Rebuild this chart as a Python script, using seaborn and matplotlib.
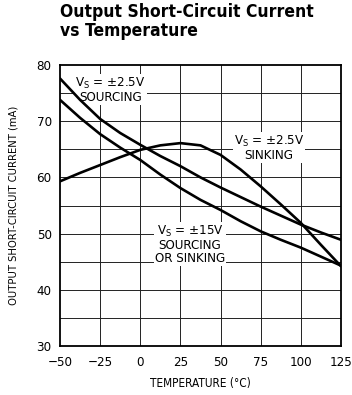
import matplotlib
matplotlib.use("Agg")
import matplotlib.pyplot as plt
from matplotlib import font_manager
import numpy as np
import pandas as pd
import seaborn as sns

# Temperature sample points (deg C)
temperature = [-50, -37.5, -25, -12.5, 0, 12.5, 25, 37.5, 50, 62.5, 75, 87.5, 100, 112.5, 125]

# Short-circuit current (mA) for each supply / direction
sourcing_2v5 = [77.6, 73.8, 70.4, 67.9, 65.8, 63.8, 62.0, 60.0, 58.2, 56.5, 54.8, 53.2, 51.6, 50.2, 48.9]
sinking_2v5 = [59.3, 60.8, 62.2, 63.6, 64.9, 65.7, 66.1, 65.7, 64.0, 61.4, 58.4, 55.2, 51.9, 48.0, 44.2]
both_15v = [73.8, 70.6, 67.7, 65.3, 63.1, 60.5, 58.1, 56.0, 54.2, 52.2, 50.4, 48.9, 47.5, 45.9, 44.3]

series_names = ["VS=±2.5V sourcing", "VS=±2.5V sinking", "VS=±15V"]

x_ticks = [-50, -25, 0, 25, 50, 75, 100, 125]
y_ticks = [30, 40, 50, 60, 70, 80]

title_text = "Output Short-Circuit Current\nvs Temperature"
x_label = "TEMPERATURE (°C)"
y_label = "OUTPUT SHORT-CIRCUIT CURRENT (mA)"

df = pd.DataFrame({
    "temperature": temperature * 3,
    "current": sourcing_2v5 + sinking_2v5 + both_15v,
    "series": sum([[n] * len(temperature) for n in series_names], []),
})

sns.set_theme(style="white")

# pick a narrow face when one is installed
fonts = font_manager.fontManager.ttflist
names = {f.name for f in fonts}
has_condensed = any(f.name == "DejaVu Sans" and f.stretch in ("condensed", 500, "semi-condensed")
                    for f in fonts)
if "Liberation Sans Narrow" in names:
    family, stretch = "Liberation Sans Narrow", "normal"
elif has_condensed:
    family, stretch = "DejaVu Sans", "condensed"
else:
    family, stretch = "Liberation Sans", "normal"

plt.rcParams["font.family"] = [family, "DejaVu Sans"]
plt.rcParams["font.stretch"] = stretch
plt.rcParams["axes.unicode_minus"] = True
for key in ("text.color", "axes.labelcolor", "xtick.color", "ytick.color"):
    plt.rcParams[key] = "black"

fig = plt.figure(figsize=(3.52, 3.95), dpi=100)
ax = fig.add_axes([60 / 352, 1 - 346 / 395, 281 / 352, 281 / 395])

# grid
for xv in [-25, 0, 25, 50, 75, 100]:
    ax.axvline(xv, color="#222222", lw=0.7, zorder=1)
for yv in [35, 40, 45, 50, 55, 60, 65, 70, 75]:
    ax.axhline(yv, color="#222222", lw=0.7, zorder=1)

sns.lineplot(data=df, x="temperature", y="current", hue="series",
             palette=["black"] * 3, estimator=None, legend=False,
             linewidth=1.9, ax=ax, zorder=3)

ax.set_xlim(-50, 125)
ax.set_ylim(30, 80)
ax.set_xticks(x_ticks)
ax.set_yticks(y_ticks)
ax.set_xticklabels([str(v).replace("-", "\u2212") for v in x_ticks], fontsize=9.5)
ax.set_yticklabels([str(v) for v in y_ticks], fontsize=9.5)
ax.tick_params(axis="x", length=0, pad=7, colors="black")
ax.tick_params(axis="y", length=0, pad=6, colors="black")
ax.set_xlabel(x_label, fontsize=8.5, labelpad=6)
ax.set_ylabel(y_label, fontsize=8, labelpad=13)
for s in ax.spines.values():
    s.set_color("black")
    s.set_linewidth(1.3)

box = dict(facecolor="white", edgecolor="none", pad=0.6)
ax.text(-18.5, 75.6, "V$_\\mathregular{S}$ = ±2.5V\nSOURCING", ha="center", va="center",
        fontsize=9.5, linespacing=1.0, bbox=box, zorder=2)
ax.text(80, 65.2, "V$_\\mathregular{S}$ = ±2.5V\nSINKING", ha="center", va="center",
        fontsize=9.5, linespacing=1.0, bbox=box, zorder=2)
ax.text(31, 48.1, "V$_\\mathregular{S}$ = ±15V\nSOURCING\nOR SINKING", ha="center", va="center",
        fontsize=9.5, linespacing=1.0, bbox=box, zorder=2)

fig.text(60 / 352, 1 - 3 / 395, title_text, ha="left", va="top",
         fontsize=12.5, fontweight="bold", linespacing=1.05)

fig.savefig("out.png", dpi=100)
